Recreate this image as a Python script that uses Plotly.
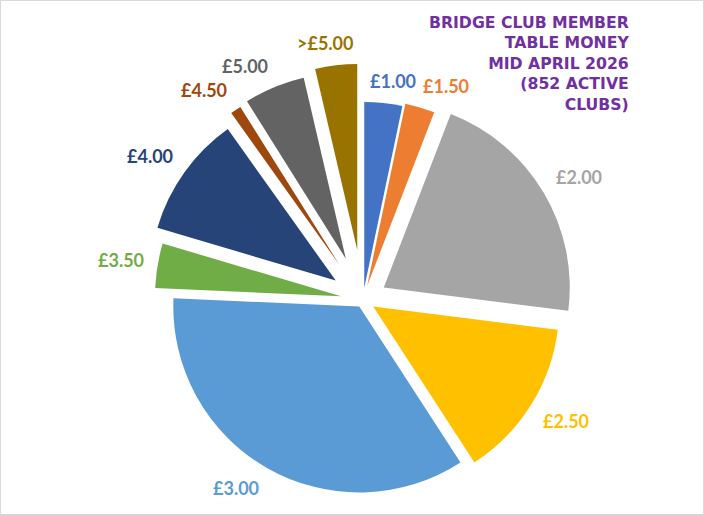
import math
import plotly.graph_objects as go

# table money per session, number of clubs (852 active clubs)
labels = ["£1.00", "£1.50", "£2.00", "£2.50", "£3.00", "£3.50", "£4.00", "£4.50", "£5.00", ">£5.00"]
clubs = [28, 22, 180, 118, 297, 33, 90, 8, 45, 31]

colours = ["#4472C4", "#ED7D31", "#A5A5A5", "#FFC000", "#5B9BD5",
           "#70AD47", "#264478", "#9E480E", "#636363", "#997300"]
pulls = [0.065, 0.08, 0.13, 0.065, 0.04, 0.12, 0.18, 0.23, 0.24, 0.27]

title_text = "BRIDGE CLUB MEMBER<br>TABLE MONEY<br>MID APRIL 2026<br>(852 ACTIVE<br>CLUBS)"

# page is 704x515; figure made a bit taller so the pie box can sit low
W, H_VIEW, H = 704, 515, 540
cx, cy, R = 363, 300, 186
half = R * (1 + max(pulls))

fig = go.Figure(go.Pie(
    labels=labels,
    values=clubs,
    sort=False,
    direction="clockwise",
    rotation=0,
    pull=pulls,
    marker=dict(colors=colours, line=dict(width=0)),
    textinfo="none",
    domain=dict(x=[(cx - half) / W, (cx + half) / W],
                y=[1 - (cy + half) / H, 1 - (cy - half) / H]),
    showlegend=False,
    hoverinfo="label+value+percent",
))


def clamp(v):
    return max(-1.0, min(1.0, v))


# slice labels just outside each (pulled) slice, in the slice colour
total = sum(clubs)
start = 0
gap = 13
for lab, val, col, p in zip(labels, clubs, colours, pulls):
    mid = math.radians((start + val / 2) / total * 360)
    start += val
    ux, uy = math.sin(mid), -math.cos(mid)
    d = R * (1 + p) + gap
    px = cx + ux * d + 24 * clamp(ux / 0.3)
    py = cy + uy * d + 9 * clamp(uy / 0.5)
    fig.add_annotation(text=lab, x=px / W, y=1 - py / H, xref="paper", yref="paper",
                       showarrow=False, xanchor="center", yanchor="middle",
                       font=dict(family="Lato", size=18, color=col, weight="bold"))

fig.add_annotation(
    text=title_text, xref="paper", yref="paper", x=631 / W, y=1 - 10.5 / H,
    xanchor="right", yanchor="top", align="right", showarrow=False,
    font=dict(family="DejaVu Sans", size=15.7, color="#7030A0", weight="bold"),
)

fig.add_shape(type="rect", xref="paper", yref="paper",
              x0=0.5 / W, x1=1 - 0.5 / W, y0=1 - (H_VIEW - 0.5) / H, y1=1 - 0.5 / H,
              line=dict(color="#D9D9D9", width=1))

fig.update_layout(
    width=W, height=H,
    margin=dict(l=0, r=0, t=0, b=0),
    paper_bgcolor="white",
    plot_bgcolor="white",
)

fig.write_html("out.html", config={"displayModeBar": False},
               post_script="document.body.style.margin='0';"
                           "document.body.style.overflow='hidden';"
                           "document.documentElement.style.overflow='hidden';")
